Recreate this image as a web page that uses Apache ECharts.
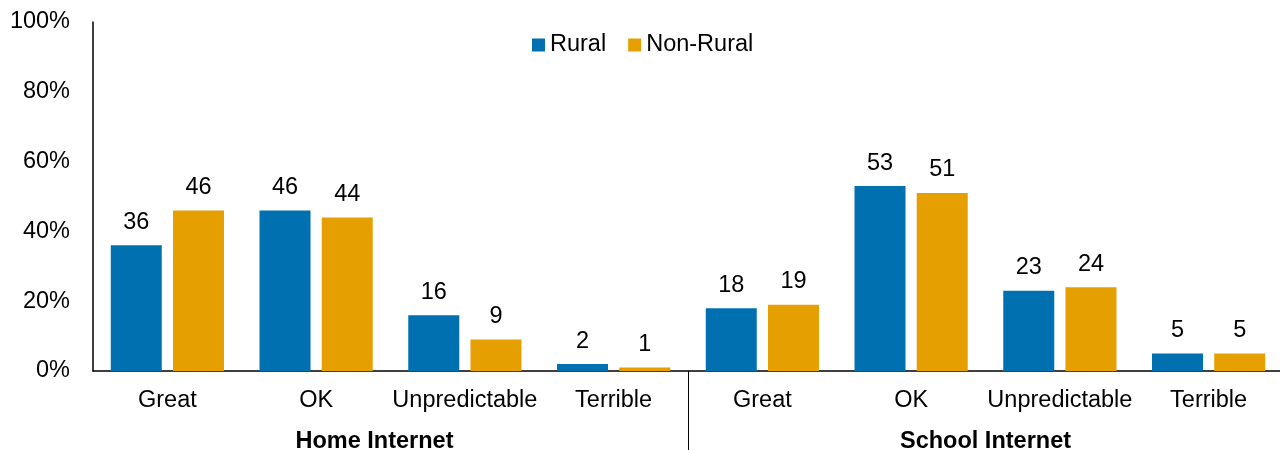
<!DOCTYPE html>
<html>
<head>
<meta charset="utf-8">
<script src="https://cdn.jsdelivr.net/npm/echarts@6/dist/echarts.min.js"></script>
<style>html,body{margin:0;padding:0;background:#fff}#c{width:1280px;height:450px}</style>
</head>
<body>
<div id="c"></div>
<script>
const categories = ['Great','OK','Unpredictable','Terrible','Great','OK','Unpredictable','Terrible'];
const groups = ['Home Internet','School Internet'];
const rural = [36,46,16,2,18,53,23,5];
const nonRural = [46,44,9,1,19,51,24,5];
const seriesNames = ['Rural','Non-Rural'];
const colors = ['#0070B0','#E69F00'];

const font = 'Liberation Sans, Arial, sans-serif';
const FS = 23.5;
const chart = echarts.init(document.getElementById('c'));
const labelCfg = {show:true, position:'top', distance:11, color:'#000', fontSize:FS, fontFamily:font};
chart.setOption({
  animation:false,
  textStyle:{fontFamily:font},
  grid:{left:93, top:22, width:1190, bottom:79, containLabel:false, outerBoundsMode:'none'},
  legend:{data:seriesNames, left:527, top:28, itemWidth:13, itemHeight:13, itemGap:22,
    icon:'rect', textStyle:{fontSize:FS, color:'#000', fontFamily:font}},
  xAxis:[{
    type:'category', data:categories, position:'bottom',
    axisLine:{show:true, lineStyle:{color:'#000', width:1.5}},
    axisTick:{show:false},
    axisLabel:{color:'#000', fontSize:FS, margin:17.5, fontFamily:font, interval:0}
  },{
    type:'category', data:groups, position:'bottom',
    axisLine:{show:false}, axisTick:{show:false},
    axisLabel:{color:'#000', fontSize:FS, fontWeight:'bold', margin:59, fontFamily:font,
      formatter:function(v,i){return i===0 ? '{a|'+v+'}' : v;},
      rich:{a:{fontSize:FS, fontWeight:'bold', color:'#000', fontFamily:font, padding:[0,32,0,0]}}}
  },{
    type:'category', data:['','',''], position:'bottom',
    axisLine:{show:false}, axisLabel:{show:false},
    axisTick:{show:true, alignWithLabel:true, length:79, interval:function(i){return i===1;}, lineStyle:{color:'#000', width:1}}
  }],
  yAxis:{type:'value', min:0, max:100, interval:20,
    axisLine:{show:true, lineStyle:{color:'#000', width:1.5}},
    axisTick:{show:false}, splitLine:{show:false},
    axisLabel:{formatter:'{value}%', color:'#000', fontSize:FS, margin:23, fontFamily:font}},
  series:[
    {name:seriesNames[0], type:'bar', data:rural, barWidth:51, barGap:'22%', itemStyle:{color:colors[0]}, label:labelCfg},
    {name:seriesNames[1], type:'bar', data:nonRural, barWidth:51, barGap:'22%', itemStyle:{color:colors[1]}, label:labelCfg}
  ]
});
</script>
</body>
</html>
